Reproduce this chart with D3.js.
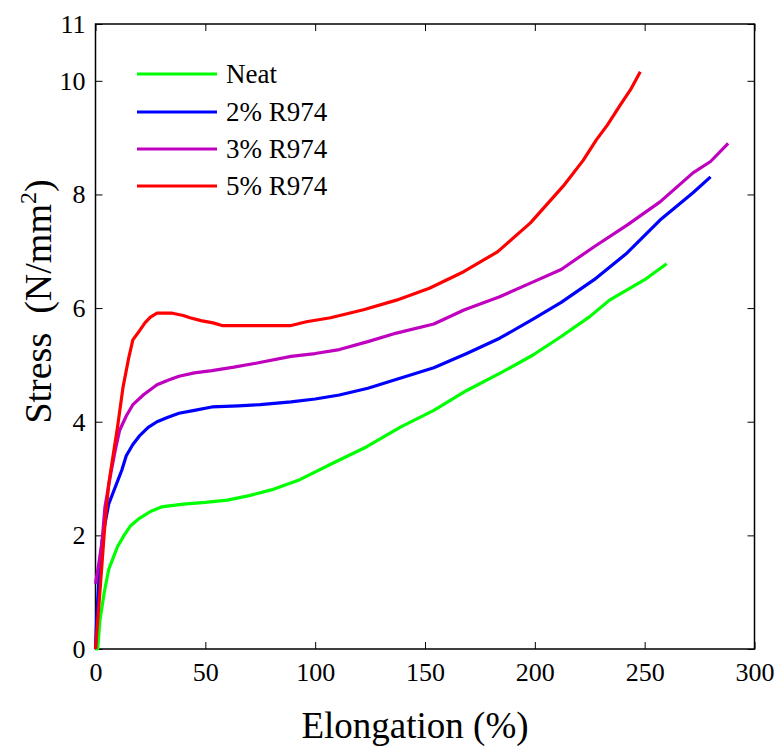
<!DOCTYPE html>
<html>
<head>
<meta charset="utf-8">
<script src="https://cdn.jsdelivr.net/npm/d3@7"></script>
<style>
  html, body { margin: 0; padding: 0; background: #fff; }
  svg { display: block; }
  text { font-family: "Liberation Serif", "Times New Roman", serif; fill: #000; }
</style>
</head>
<body>
<svg id="chart" width="778" height="747"></svg>
<script>
// ---- data ----
const seriesNames = ["Neat", "2% R974", "3% R974", "5% R974"];
const seriesColors = ["#00ff00", "#0000ff", "#bf00bf", "#ff0000"];

const neat = [
  [0,0],[1,0],[2,0.5],[4,1.0],[6,1.4],[8,1.6],[10,1.8],[13,2.0],[16,2.17],[20,2.3],
  [25,2.42],[30,2.5],[40,2.55],[50,2.58],[60,2.62],[70,2.7],[80,2.8],[93,2.98],
  [108,3.27],[123.5,3.56],[139,3.91],[154,4.2],[169,4.55],[184,4.85],[199,5.17],
  [212,5.5],[225,5.85],[234,6.14],[250,6.5],[260,6.78]
];
const r974_2 = [
  [0,0],[0.5,0.5],[1.5,1.2],[3,1.9],[4.3,2.2],[6,2.55],[8,2.75],[10,2.95],[12,3.15],
  [14,3.4],[17,3.6],[20,3.75],[24,3.9],[28,4.0],[33,4.08],[38,4.15],[45,4.2],[53,4.26],
  [65,4.28],[75,4.3],[89,4.35],[100,4.4],[111,4.47],[124,4.59],[139,4.77],[154,4.95],
  [169,5.2],[184,5.47],[199,5.8],[212,6.1],[227,6.5],[242,6.97],[257,7.55],[272,8.03],[280,8.31]
];
const r974_3 = [
  [0,1.15],[1.5,1.5],[3,1.9],[4.3,2.5],[7,3.1],[9,3.5],[11,3.85],[14,4.1],[17,4.3],
  [22,4.48],[28,4.65],[33,4.73],[38,4.8],[45,4.86],[53,4.9],[63,4.96],[73,5.03],
  [89,5.15],[100,5.2],[111,5.27],[124,5.41],[137,5.56],[154,5.72],[168,5.97],[184,6.2],
  [198,6.44],[212,6.68],[227,7.08],[242,7.46],[257,7.87],[272,8.38],[280,8.58],[288,8.9]
];
const r974_5 = [
  [0,0],[2,1.0],[4.3,2.2],[6,2.9],[8,3.4],[10,3.9],[12.5,4.6],[15,5.1],[17,5.44],
  [20,5.6],[22.5,5.74],[25,5.84],[28,5.91],[35,5.91],[40,5.87],[43,5.83],[48,5.78],
  [53.5,5.74],[58,5.69],[75,5.69],[88.6,5.69],[96,5.76],[107,5.83],[122,5.97],[137,6.14],
  [152,6.35],[167.6,6.64],[183,6.99],[198,7.5],[213,8.15],[222,8.6],[228,8.96],
  [233,9.22],[239,9.58],[243.5,9.84],[248,10.16]
];
const seriesData = [neat, r974_2, r974_3, r974_5];

const xTicks = [0, 50, 100, 150, 200, 250, 300];
const yTicks = [0, 2, 4, 6, 8, 10, 11];

// ---- layout ----
const svg = d3.select("#chart");
const mLeft = 95.5, mRight = 754.5, mTop = 24, mBottom = 649;

const x = d3.scaleLinear().domain([0, 300]).range([mLeft, mRight]);
const y = d3.scaleLinear().domain([0, 11]).range([mBottom, mTop]);

const tickLen = 7;

const gB = svg.append("g").attr("transform", `translate(0,${mBottom})`)
  .call(d3.axisBottom(x).tickValues(xTicks).tickSizeInner(-tickLen).tickSizeOuter(0).tickPadding(14));
const gT = svg.append("g").attr("transform", `translate(0,${mTop})`)
  .call(d3.axisTop(x).tickValues(xTicks).tickSizeInner(-tickLen).tickSizeOuter(0).tickFormat(""));
const gL = svg.append("g").attr("transform", `translate(${mLeft},0)`)
  .call(d3.axisLeft(y).tickValues(yTicks).tickSizeInner(-tickLen).tickSizeOuter(0).tickPadding(10));
const gR = svg.append("g").attr("transform", `translate(${mRight},0)`)
  .call(d3.axisRight(y).tickValues(yTicks).tickSizeInner(-tickLen).tickSizeOuter(0).tickFormat(""));

[gB, gT, gL, gR].forEach(g => {
  g.select(".domain").remove();
  g.selectAll(".tick line").attr("stroke", "#000").attr("stroke-width", 1);
  g.selectAll(".tick text")
    .style("font-family", '"Liberation Serif", "Times New Roman", serif')
    .style("font-size", "26px").attr("fill", "#000");
});
gB.selectAll(".tick text").attr("dy", "0.71em");

svg.append("rect")
  .attr("x", mLeft).attr("y", mTop)
  .attr("width", mRight - mLeft).attr("height", mBottom - mTop)
  .attr("fill", "none").attr("stroke", "#000").attr("stroke-width", 1.5);

const line = d3.line().x(d => x(d[0])).y(d => y(d[1]));
const clipId = "plotclip";
svg.append("clipPath").attr("id", clipId).append("rect")
  .attr("x", mLeft - 2).attr("y", mTop).attr("width", mRight - mLeft + 4).attr("height", mBottom - mTop + 2);

seriesData.forEach((data, i) => {
  svg.append("path")
    .datum(data)
    .attr("d", line)
    .attr("fill", "none")
    .attr("stroke", seriesColors[i])
    .attr("stroke-width", 3.2)
    .attr("stroke-linejoin", "round")
    .attr("clip-path", `url(#${clipId})`);
});

const legY = [74, 112, 149, 186];
seriesNames.forEach((name, i) => {
  svg.append("line")
    .attr("x1", 137).attr("x2", 217)
    .attr("y1", legY[i]).attr("y2", legY[i])
    .attr("stroke", seriesColors[i]).attr("stroke-width", 3.2);
  svg.append("text")
    .attr("x", 226).attr("y", legY[i])
    .attr("dy", "0.34em")
    .style("font-size", "27px")
    .text(name);
});

svg.append("text")
  .attr("x", (mLeft + mRight) / 2 - 10).attr("y", 738)
  .attr("text-anchor", "middle")
  .style("font-size", "37px")
  .text("Elongation (%)");

const yt = svg.append("text")
  .attr("transform", `translate(51,${(mTop + mBottom) / 2 - 35}) rotate(-90)`)
  .attr("text-anchor", "middle")
  .style("font-size", "38px");
yt.append("tspan").text("Stress\u00a0\u00a0(N/mm");
yt.append("tspan").attr("dy", -15).style("font-size", "24px").text("2");
yt.append("tspan").attr("dy", 15).text(")");
</script>
</body>
</html>
